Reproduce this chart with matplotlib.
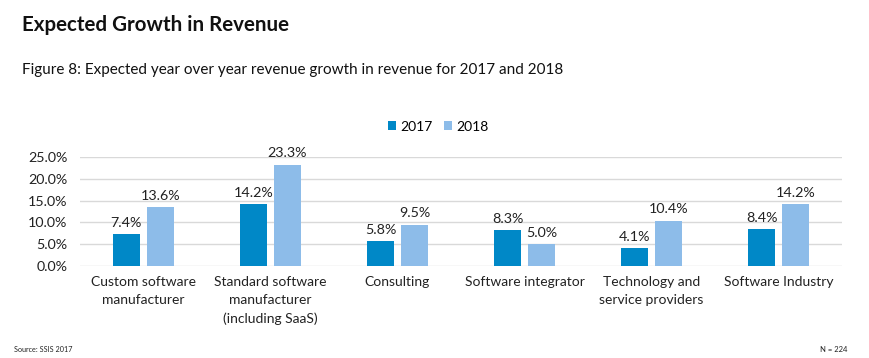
import matplotlib
matplotlib.use("Agg")
import matplotlib.pyplot as plt
import numpy as np
from matplotlib.ticker import FuncFormatter

categories = ["Custom software\nmanufacturer", "Standard software\nmanufacturer\n(including SaaS)",
              "Consulting", "Software integrator", "Technology and\nservice providers", "Software Industry"]
series_names = ["2017", "2018"]
values_2017 = [7.4, 14.2, 5.8, 8.3, 4.1, 8.4]
values_2018 = [13.6, 23.3, 9.5, 5.0, 10.4, 14.2]
yticks = [0, 5, 10, 15, 20, 25]

c17 = "#0088C7"
c18 = "#8DBCE9"
font = "Lato"
plt.rcParams['font.family'] = [font, 'DejaVu Sans']

fig = plt.figure(figsize=(8.69, 3.58), dpi=100)
ax = fig.add_axes([0.092, 0.257, 0.877, 0.304])

x = np.arange(len(categories))
w = 0.213
off = 0.134
b1 = ax.bar(x - off, values_2017, w, color=c17, label=series_names[0], zorder=3)
b2 = ax.bar(x + off, values_2018, w, color=c18, label=series_names[1], zorder=3)
for bars, vals in ((b1, values_2017), (b2, values_2018)):
    for r, v in zip(bars, vals):
        ax.text(r.get_x() + r.get_width() / 2, v + 1.2, f"{v:.1f}%", ha="center", va="bottom",
                fontsize=10.3, color="#222222", clip_on=False)

ax.set_xlim(-0.5, len(categories) - 0.5)
ax.set_ylim(0, 25)
ax.set_yticks(yticks)
ax.yaxis.set_major_formatter(FuncFormatter(lambda v, p: f"{v:.1f}%"))
ax.set_xticks(x)
ax.set_xticklabels(categories, fontsize=10, color="#222222", linespacing=1.6)
ax.tick_params(axis="y", length=0, labelsize=10.3, labelcolor="#222222", pad=9)
ax.tick_params(axis="x", length=0, pad=7)
ax.grid(axis="y", color="#D9D9D9", linewidth=1, zorder=0)
for s in ax.spines.values():
    s.set_visible(False)

leg = ax.legend(loc="center", bbox_to_anchor=(0.47, 1.28), ncol=2, frameon=False, fontsize=10,
                handlelength=0.6, handleheight=0.6, handletextpad=0.3, columnspacing=0.8)

fig.text(22 / 869, 1 - 25 / 358, "Expected Growth in Revenue", fontsize=14.8, fontweight="bold",
         va="center", ha="left", color="#111111")
fig.text(22 / 869, 1 - 70 / 358, "Figure 8: Expected year over year revenue growth in revenue for 2017 and 2018",
         fontsize=11, va="center", ha="left", color="#111111")
fig.text(14 / 869, 1 - 349 / 358, "Source: SSIS 2017", fontsize=5.2, va="center", ha="left", color="#222222")
fig.text(847 / 869, 1 - 349 / 358, "N = 224", fontsize=5.5, va="center", ha="right", color="#222222")

fig.savefig("out.png", dpi=100)
